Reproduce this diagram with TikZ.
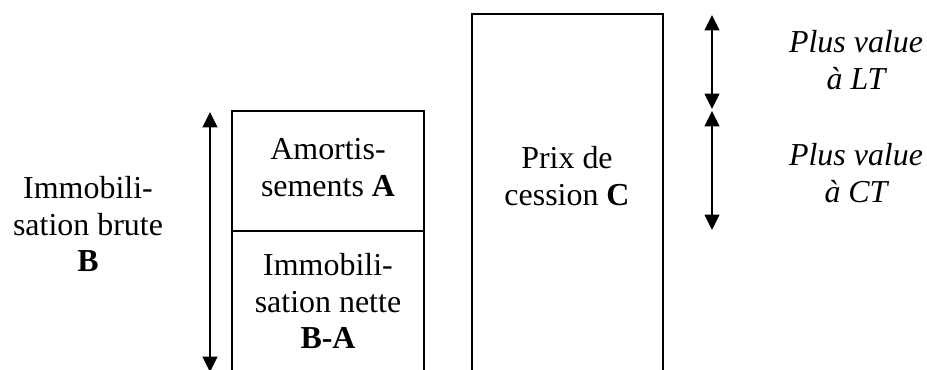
\documentclass[tikz,border=0pt]{standalone}
\usepackage{fontspec}
\setmainfont{Liberation Serif}
\usetikzlibrary{arrows.meta}
\tikzset{
	texte/.style={align=center, font=\fontsize{11.5}{13.3}\selectfont, inner sep=0pt},
	fleche/.style={{Triangle[length=5.5pt,width=5.2pt]}-{Triangle[length=5.5pt,width=5.2pt]}, line width=0.8pt},
	cadre/.style={line width=0.5pt}
}
\begin{document}
\begin{tikzpicture}[x=0.36pt, y=-0.36pt]
\useasboundingbox (0,0) rectangle (927,370);
% Immobilisation:
	\draw [cadre] (232,372) -- (232,111) -- (424,111) -- (424,372);
	\draw [cadre] (232,231) -- (424,231);
	\node [texte] (amort) at (328,168) {Amortis-\\sements \textbf{A}};
	\node [texte] (nette) at (328,301) {Immobili-\\sation nette\\\textbf{B-A}};
	% Fleche brute
	\coordinate (b1) at (210,112);
	\coordinate (b2) at (210,372);
	\draw [fleche] (b1) -- (b2);
	\node [texte] (brute) at (88,224) {Immobili-\\sation brute\\\textbf{B}};
% Prix de cession:
	\draw [cadre] (472,372) -- (472,14) -- (663,14) -- (663,372);
	\node [texte] (prix) at (567,176) {Prix de\\cession \textbf{C}};
	% Plus values
	\coordinate (p1) at (712,15);
	\coordinate (p2) at (712,109);
	\coordinate (p3) at (712,111);
	\coordinate (p4) at (712,230);
	\draw [fleche] (p1) -- (p2);
	\draw [fleche] (p3) -- (p4);
	\node [texte, font=\fontsize{11.5}{13.3}\selectfont\itshape] (lt) at (856,60) {Plus value\\à LT};
	\node [texte, font=\fontsize{11.5}{13.3}\selectfont\itshape] (ct) at (856,173) {Plus value\\à CT};
\end{tikzpicture}
\end{document}
